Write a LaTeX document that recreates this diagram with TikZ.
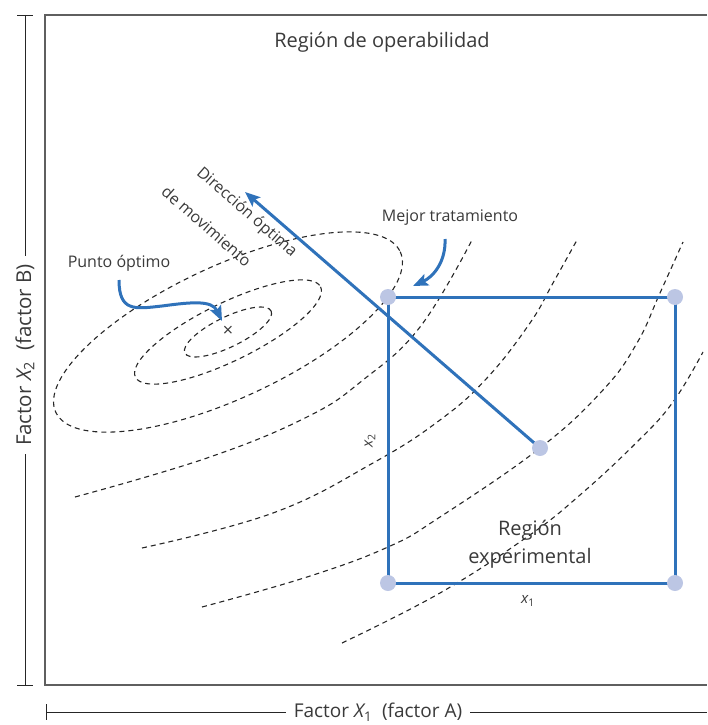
\documentclass[tikz,border=0pt]{standalone}
\usepackage{fontspec}
\setmainfont{Open Sans}
\usetikzlibrary{arrows.meta}
\definecolor{bl}{HTML}{2F72BA}
\definecolor{dotc}{HTML}{BCC6E4}
\definecolor{txt}{HTML}{3A3A3A}
\definecolor{frm}{HTML}{5F5F5F}
\pgfdeclarelayer{bg}
\pgfsetlayers{bg,main}
\begin{document}
\begin{tikzpicture}[x=1pt,y=-1pt,
  contour/.style={draw=black!85, line width=1.1pt, dash pattern=on 5pt off 4pt},
  blueline/.style={draw=bl, line width=3pt},
  bluearrow/.style={blueline, -{Stealth[length=15pt,width=12pt,inset=3pt]}},
  dotnode/.style={circle, fill=dotc, minimum size=16pt, inner sep=0pt},
  lbl/.style={text=txt, inner sep=1pt, font=\fontsize{16}{19}\selectfont},
  biglbl/.style={text=txt, inner sep=1pt, font=\fontsize{20}{28}\selectfont},
  axlbl/.style={text=txt, fill=white, inner sep=8pt, font=\fontsize{19}{22}\selectfont},
  dimline/.style={draw=black!85, line width=0.9pt},
  framestyle/.style={draw=frm, line width=1.6pt}
  ]
\useasboundingbox (0,0) rectangle (707,725);

% frame and dimension lines
\draw[framestyle] (707,15) -- (45,15) -- (45,685) -- (707,685);
\draw[dimline] (25,15) -- (25,685);
\draw[dimline] (17,15) -- (33,15);
\draw[dimline] (17,685) -- (33,685);
\draw[dimline] (46,712) -- (707,712);
\draw[dimline] (46,704) -- (46,720);
\node[axlbl, rotate=90, font=\fontsize{20.5}{24}\selectfont] (fx2) at (25,355) {Factor {\itshape X}\textsubscript{2}\ \ (factor B)};
\node[axlbl] (fx1) at (378,712) {Factor {\itshape X}\textsubscript{1}\ \ (factor A)};

% points
\node[dotnode] (tl) at (388,297) {};
\node[dotnode] (tr) at (675,297) {};
\node[dotnode] (br) at (675,583) {};
\node[dotnode] (bl) at (388,583) {};
\node[dotnode] (c) at (540,448) {};
\coordinate (tip) at (245,192);

\begin{pgfonlayer}{bg}
% contours
\draw[contour, rotate around={25:(228,332)}] (228,332) ellipse [x radius=190, y radius=66];
\draw[contour, rotate around={26:(228,332)}] (228,332) ellipse [x radius=103, y radius=29];
\draw[contour, rotate around={26:(228,332)}] (228,332) ellipse [x radius=48, y radius=15];
\draw[contour] plot[smooth, tension=0.7] coordinates {(75,497) (207,458) (307,417) (363,380) (420,327) (472,240)};
\draw[contour] plot[smooth, tension=0.7] coordinates {(142,548) (273,513) (373,463) (440,420) (487,378) (530,323) (553,283) (577,240)};
\draw[contour] plot[smooth, tension=0.7] coordinates {(202,607) (307,577) (388,547) (440,517) (540,448) (603,390) (637,343) (660,293) (683,242)};
\draw[contour] plot[smooth, tension=0.7] coordinates {(342,643) (440,593) (527,537) (580,495) (637,442) (673,402) (703,352)};
% experimental region
\draw[blueline] (tl.center) -- (tr.center) -- (br.center) -- (bl.center) -- cycle;
\draw[bluearrow] (c.center) -- (tip);
\end{pgfonlayer}

% labels
\node[biglbl] (title) at (382,42) {Región de operabilidad};
\node[biglbl, align=center] (rexp) at (530,544) {Región\\experimental};
\node[lbl, font=\fontsize{15}{18}\selectfont] (x1) at (528,601) {{\itshape x}\textsubscript{1}};
\node[lbl, font=\fontsize{15}{18}\selectfont, rotate=90] (x2) at (370,441) {{\itshape x}\textsubscript{2}};
\node[lbl, rotate=-41, align=left, font=\fontsize{16}{38}\selectfont] (dir) at (230,221) {\hspace*{14pt}Dirección óptima\\de movimiento};
\node[lbl] (punto) at (119,263) {Punto óptimo};
\node[lbl] (mejor) at (450,218) {Mejor tratamiento};
\node[text=txt, inner sep=0pt, font=\fontsize{18}{18}\selectfont] (opt) at (228,331) {×};

% pointer arrows
\coordinate (p1) at (119,280);
\coordinate (p2) at (222,321);
\draw[bluearrow] (p1) .. controls (119,312) and (135,309) .. (162,306) .. controls (192,302) and (212,300) .. (p2);
\coordinate (m1) at (445,239);
\coordinate (m2) at (413,286);
\draw[bluearrow] (m1) .. controls (446,262) and (433,277) .. (m2);
\end{tikzpicture}
\end{document}
